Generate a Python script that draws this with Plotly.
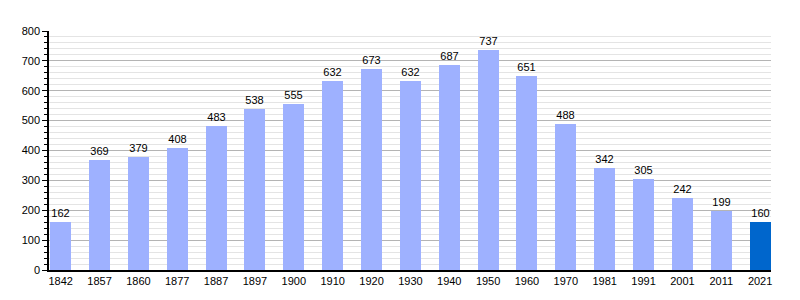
import plotly.graph_objects as go

years = ["1842", "1857", "1860", "1877", "1887", "1897", "1900", "1910", "1920", "1930",
         "1940", "1950", "1960", "1970", "1981", "1991", "2001", "2011", "2021"]
population = [162, 369, 379, 408, 483, 538, 555, 632, 673, 632,
              687, 737, 651, 488, 342, 305, 242, 199, 160]
y_ticks = [0, 100, 200, 300, 400, 500, 600, 700, 800]

colors = ["#9eb1ff"] * (len(years) - 1) + ["#0066cc"]
idx = list(range(len(years)))

fig = go.Figure(go.Bar(
    x=idx, y=population, width=0.54,
    marker=dict(color=colors, line=dict(width=0)),
    text=[str(v) for v in population], textposition="outside",
    textfont=dict(size=11, color="black"), cliponaxis=False,
))

fig.update_layout(
    width=800, height=300,
    margin=dict(l=49, r=29, t=31, b=30),
    plot_bgcolor="white", paper_bgcolor="white",
    font=dict(family="Liberation Sans, Arial, sans-serif", size=11, color="black"),
    showlegend=False, bargap=0,
)
fig.update_xaxes(
    range=[-0.3, 18.28], tickmode="array", tickvals=idx, ticktext=years,
    showline=True, linecolor="black", linewidth=1.5, showgrid=False, ticks="",
    zeroline=False,
)
fig.update_yaxes(
    range=[0, 800], tickmode="array", tickvals=y_ticks,
    showline=True, linecolor="black", linewidth=1.5,
    showgrid=True, gridcolor="#b4b4b4", gridwidth=1,
    ticks="outside", ticklen=5, tickcolor="black",
    zeroline=False,
    minor=dict(dtick=20, tick0=0, showgrid=True, gridcolor="#e4e4e4", gridwidth=1,
               ticks="outside", ticklen=3, tickcolor="black"),
)

fig.write_html("out.html")
